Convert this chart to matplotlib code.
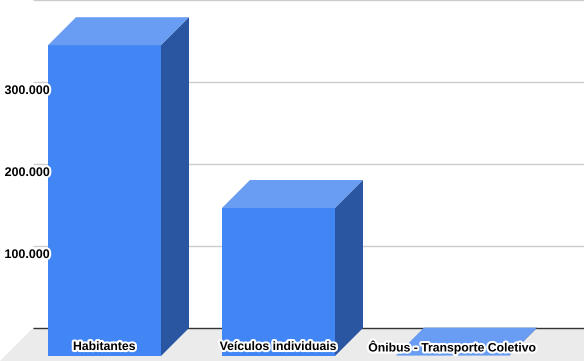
import matplotlib

matplotlib.use("Agg")
import matplotlib.pyplot as plt
import matplotlib.patheffects as pe
from matplotlib.patches import Polygon

categories = ["Habitantes", "Veículos individuais", "Ônibus - Transporte Coletivo"]
values = [379000, 180500, 500]
yticks = [100000, 200000, 300000]
ytick_labels = ["100.000", "200.000", "300.000"]

FRONT = "#4285f4"
TOP = "#699cf3"
SIDE = "#2a55a0"

# geometry: 174 px per category, 82 px per 100k, 28 px oblique depth
PX_X = 1 / 174
PX_Y = 100000 / 82
DX, DY = 28 * PX_X, 28 * PX_Y
W = 113 * PX_X

fig = plt.figure(figsize=(5.84, 3.61), dpi=100)
ax = fig.add_axes([0, 0, 1, 1])
ax.set_xlim(-104.5 * PX_X, (584 - 104.5) * PX_X)
ax.set_ylim(-33 * PX_Y, 328 * PX_Y)
ax.axis("off")

x_left = (33 - 104.5) * PX_X
x_right = (640 - 104.5) * PX_X

# back-plane gridlines and baseline
for v in [0] + yticks + [400000]:
    ax.plot([x_left, x_right], [v, v], color="#333333" if v == 0 else "#cccccc",
            lw=1, zorder=2 if v == 0 else 1, solid_capstyle="butt")

# floor
floor_d = 33 * PX_Y
floor_dx = 33 * PX_X
ax.add_patch(Polygon([(x_left, 0), (x_right, 0), (x_right - floor_dx, -floor_d),
                      (x_left - floor_dx, -floor_d)], closed=True,
                     facecolor="#ebebeb", edgecolor="none", zorder=1.5))

stroke = [pe.withStroke(linewidth=3, foreground="white")]

for i, v in enumerate(values):
    l, r = i - W / 2, i + W / 2
    ax.add_patch(Polygon([(l, -DY), (r, -DY), (r, v - DY), (l, v - DY)],
                         facecolor=FRONT, edgecolor="none", zorder=3))
    ax.add_patch(Polygon([(l, v - DY), (r, v - DY), (r + DX, v), (l + DX, v)],
                         facecolor=TOP, edgecolor="none", zorder=3))
    ax.add_patch(Polygon([(r, -DY), (r + DX, 0), (r + DX, v), (r, v - DY)],
                         facecolor=SIDE, edgecolor="none", zorder=3))
    ax.text(i, -19 * PX_Y, categories[i], ha="center", va="center",
            fontsize=8.8, fontweight="bold", family="Liberation Sans",
            color="black", path_effects=stroke, zorder=5)

for v, lab in zip(yticks, ytick_labels):
    ax.text((50 - 104.5) * PX_X, v - 9 * PX_Y, lab, ha="right", va="center",
            fontsize=9, fontweight="bold", family="Liberation Sans",
            color="black", path_effects=stroke, zorder=5)

fig.savefig("out.png", dpi=100)
